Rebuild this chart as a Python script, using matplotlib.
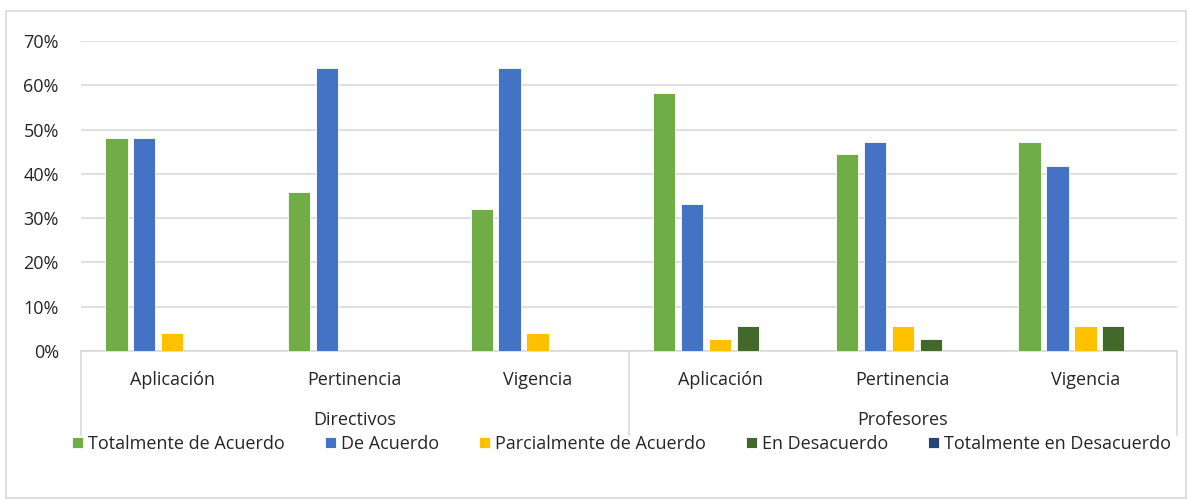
import matplotlib.pyplot as plt
from matplotlib.patches import Rectangle
from matplotlib.lines import Line2D
from matplotlib.ticker import PercentFormatter
import numpy as np

plt.rcParams['font.family'] = ['Open Sans', 'DejaVu Sans']

groups = ['Directivos', 'Profesores']
categories = ['Aplicación', 'Pertinencia', 'Vigencia', 'Aplicación', 'Pertinencia', 'Vigencia']
series = ['Totalmente de Acuerdo', 'De Acuerdo', 'Parcialmente de Acuerdo',
          'En Desacuerdo', 'Totalmente en Desacuerdo']
totalmente_acuerdo = [0.48, 0.36, 0.32, 0.583, 0.444, 0.472]
de_acuerdo = [0.48, 0.64, 0.64, 0.333, 0.472, 0.417]
parcialmente = [0.04, 0.0, 0.04, 0.028, 0.056, 0.056]
desacuerdo = [0.0, 0.0, 0.0, 0.056, 0.028, 0.056]
totalmente_desacuerdo = [0.0, 0.0, 0.0, 0.0, 0.0, 0.0]
colors = ['#70AD47', '#4472C4', '#FFC000', '#43682B', '#264478']

values = [totalmente_acuerdo, de_acuerdo, parcialmente, desacuerdo, totalmente_desacuerdo]

fig = plt.figure(figsize=(11.91, 5.0), dpi=100)
ax = fig.add_axes([0.068, 0.298, 0.920, 0.620])

x = np.arange(len(categories))
step = 0.153
width = 0.122
for i, (name, vals) in enumerate(zip(series, values)):
    ax.bar(x + (i - 2) * step, vals, width, color=colors[i], label=name,
           edgecolor='white', linewidth=0.6, zorder=3)

ax.set_xlim(-0.5, len(categories) - 0.5)
ax.set_ylim(0, 0.7)
ax.set_yticks(np.arange(0, 0.71, 0.1))
ax.yaxis.set_major_formatter(PercentFormatter(1.0, decimals=0))
ax.grid(axis='y', color='#D9D9D9', linewidth=1.2, zorder=0)
for s in ['top', 'right', 'left']:
    ax.spines[s].set_visible(False)
ax.spines['bottom'].set_color('#D9D9D9')
ax.spines['bottom'].set_linewidth(1.2)
ax.tick_params(axis='y', length=0, labelsize=13, colors='#262626', pad=16)
ax.set_xticks([])

# multi-level category axis
for i, cat in enumerate(categories):
    ax.text(i, -0.094, cat, ha='center', va='center', fontsize=13, color='#262626',
            transform=ax.get_xaxis_transform(), clip_on=False)
for g, grp in enumerate(groups):
    ax.text(g * 3 + 1, -0.223, grp, ha='center', va='center', fontsize=13, color='#262626',
            transform=ax.get_xaxis_transform(), clip_on=False)
for xb in [-0.5, 2.5, 5.5]:
    ax.add_line(Line2D([xb, xb], [0, -0.271], color='#D9D9D9', linewidth=1.2,
                       transform=ax.get_xaxis_transform(), clip_on=False))

leg = fig.legend(loc='center', bbox_to_anchor=(0.522, 0.112), ncol=5, frameon=False,
                 fontsize=13, handlelength=0.6, handleheight=0.6, handletextpad=0.3,
                 columnspacing=2.2, labelcolor='#262626')

fig.patches.append(Rectangle((6 / 1191, 2 / 500), 1180 / 1191, 487 / 500,
                             transform=fig.transFigure, fill=False,
                             edgecolor='#D9D9D9', linewidth=1.2))

fig.savefig('out.png', dpi=100)
